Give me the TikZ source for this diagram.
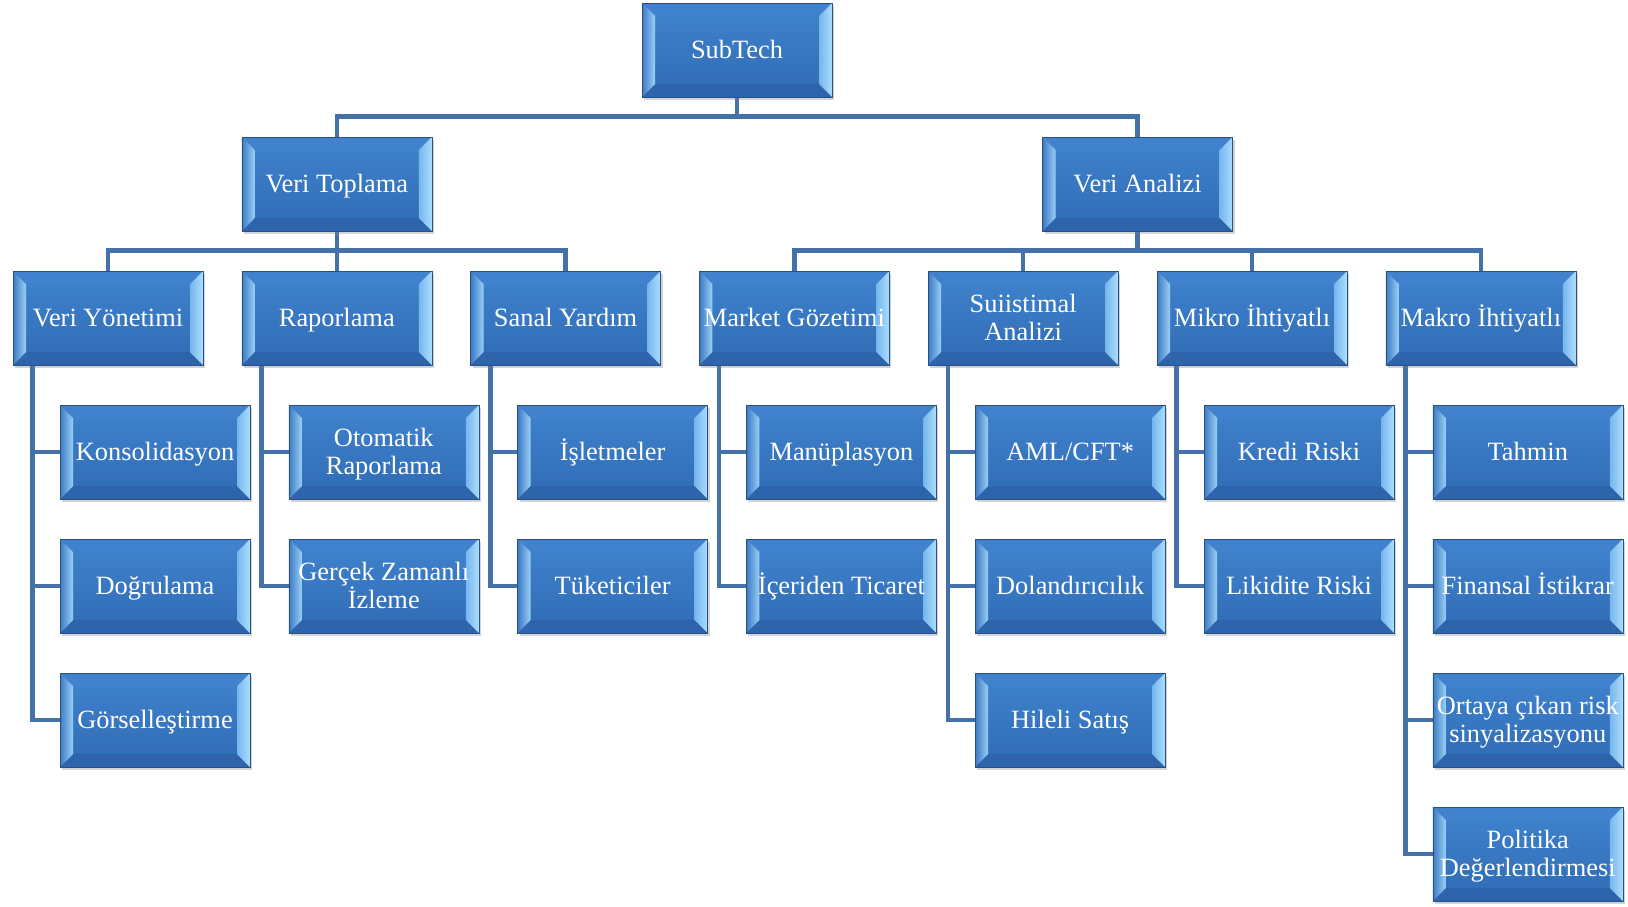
\documentclass[tikz,border=0pt]{standalone}
\usepackage{fontspec}
\setmainfont{Liberation Serif}
\usetikzlibrary{calc,shadows,backgrounds}
\definecolor{facemainA}{RGB}{62,128,202}
\definecolor{facemainB}{RGB}{50,110,184}
\definecolor{facetop}{RGB}{64,130,205}
\definecolor{facebot}{RGB}{46,100,172}
\definecolor{faceL1}{RGB}{60,122,196}
\definecolor{faceL2}{RGB}{155,208,246}
\definecolor{faceR1}{RGB}{118,182,238}
\definecolor{faceR2}{RGB}{172,222,252}
\definecolor{boxedge}{RGB}{40,80,130}
\definecolor{linec}{RGB}{68,114,168}
\tikzset{
  box/.style={minimum width=95pt, minimum height=47pt, inner sep=0pt,
    fill=facemainB, draw=boxedge, line width=0.3pt, text=white, align=center,
    font=\fontsize{13.2}{14}\selectfont, text height=10pt, text depth=2pt,
    drop shadow={opacity=0.35, shadow xshift=1pt, shadow yshift=-1.5pt},
    path picture={
      \coordinate (b1) at (path picture bounding box.south west);
      \coordinate (b3) at (path picture bounding box.north east);
      \coordinate (b2) at (b1 -| b3);
      \coordinate (b4) at (b1 |- b3);
      \coordinate (i1) at ($(b1)+(6.5pt,6.5pt)$);
      \coordinate (i3) at ($(b3)+(-6.5pt,-6.5pt)$);
      \coordinate (i2) at (i1 -| i3);
      \coordinate (i4) at (i1 |- i3);
      \shade[top color=facemainA, bottom color=facemainB] (i1) rectangle (i3);
      \fill[facetop] (b4) -- (b3) -- (i3) -- (i4) -- cycle;
      \fill[facebot] (b1) -- (b2) -- (i2) -- (i1) -- cycle;
      \shade[left color=faceL1, right color=faceL2] (b1) -- (i1) -- (i4) -- (b4) -- cycle;
      \shade[left color=faceR1, right color=faceR2] (b2) -- (b3) -- (i3) -- (i2) -- cycle;
    }},
  twoline/.style={text height=24pt},
  conn/.style={draw=linec, line width=2.25pt}
}
\begin{document}
\begin{tikzpicture}[x=0.5pt, y=-0.5pt]
\useasboundingbox (0,0) rectangle (1628,906);
% row 0
\node[box] (sub) at (737,50) {SubTech};
% row 1
\node[box] (vt) at (336.8,184) {Veri Toplama};
\node[box] (va) at (1137.6,184) {Veri Analizi};
% row 2
\node[box] (vy) at (108,318) {Veri Yönetimi};
\node[box] (rap) at (336.8,318) {Raporlama};
\node[box] (sy) at (565.6,318) {Sanal Yardım};
\node[box] (mg) at (794.4,318) {Market Gözetimi};
\node[box,twoline] (sa) at (1023.2,318) {Suiistimal\\Analizi};
\node[box] (mi) at (1252,318) {Mikro İhtiyatlı};
\node[box] (ma) at (1480.8,318) {Makro İhtiyatlı};
% children
\node[box] (kon) at (155,452) {Konsolidasyon};
\node[box] (dog) at (155,586) {Doğrulama};
\node[box] (gor) at (155,720) {Görselleştirme};
\node[box,twoline] (oto) at (383.8,452) {Otomatik\\Raporlama};
\node[box,twoline] (gz) at (383.8,586) {Gerçek Zamanlı\\İzleme};
\node[box] (isl) at (612.6,452) {İşletmeler};
\node[box] (tuk) at (612.6,586) {Tüketiciler};
\node[box] (man) at (841.4,452) {Manüplasyon};
\node[box] (ict) at (841.4,586) {İçeriden Ticaret};
\node[box] (aml) at (1070.2,452) {AML/CFT*};
\node[box] (dol) at (1070.2,586) {Dolandırıcılık};
\node[box] (hil) at (1070.2,720) {Hileli Satış};
\node[box] (kr) at (1299,452) {Kredi Riski};
\node[box] (lr) at (1299,586) {Likidite Riski};
\node[box] (tah) at (1527.8,452) {Tahmin};
\node[box] (fin) at (1527.8,586) {Finansal İstikrar};
\node[box,twoline] (ort) at (1527.8,720) {Ortaya çıkan risk\\sinyalizasyonu};
\node[box,twoline] (pol) at (1527.8,854) {Politika\\Değerlendirmesi};
\begin{scope}[on background layer]
\draw[conn] (sub.south) -- ++(0,19) -| (vt.north);
\draw[conn] (sub.south) -- ++(0,19) -| (va.north);
\foreach \c in {vy,rap,sy}{\draw[conn] (vt.south) -- ++(0,19) -| (\c.north);}
\foreach \c in {mg,sa,mi,ma}{\draw[conn] (va.south) -- ++(0,19) -| (\c.north);}
\foreach \p/\c in {vy/kon,vy/dog,vy/gor,rap/oto,rap/gz,sy/isl,sy/tuk,mg/man,mg/ict,sa/aml,sa/dol,sa/hil,mi/kr,mi/lr,ma/tah,ma/fin,ma/ort,ma/pol}{
  \draw[conn] ($(\p.south west)+(20,0)$) |- (\c.west);}
\end{scope}
\end{tikzpicture}
\end{document}
